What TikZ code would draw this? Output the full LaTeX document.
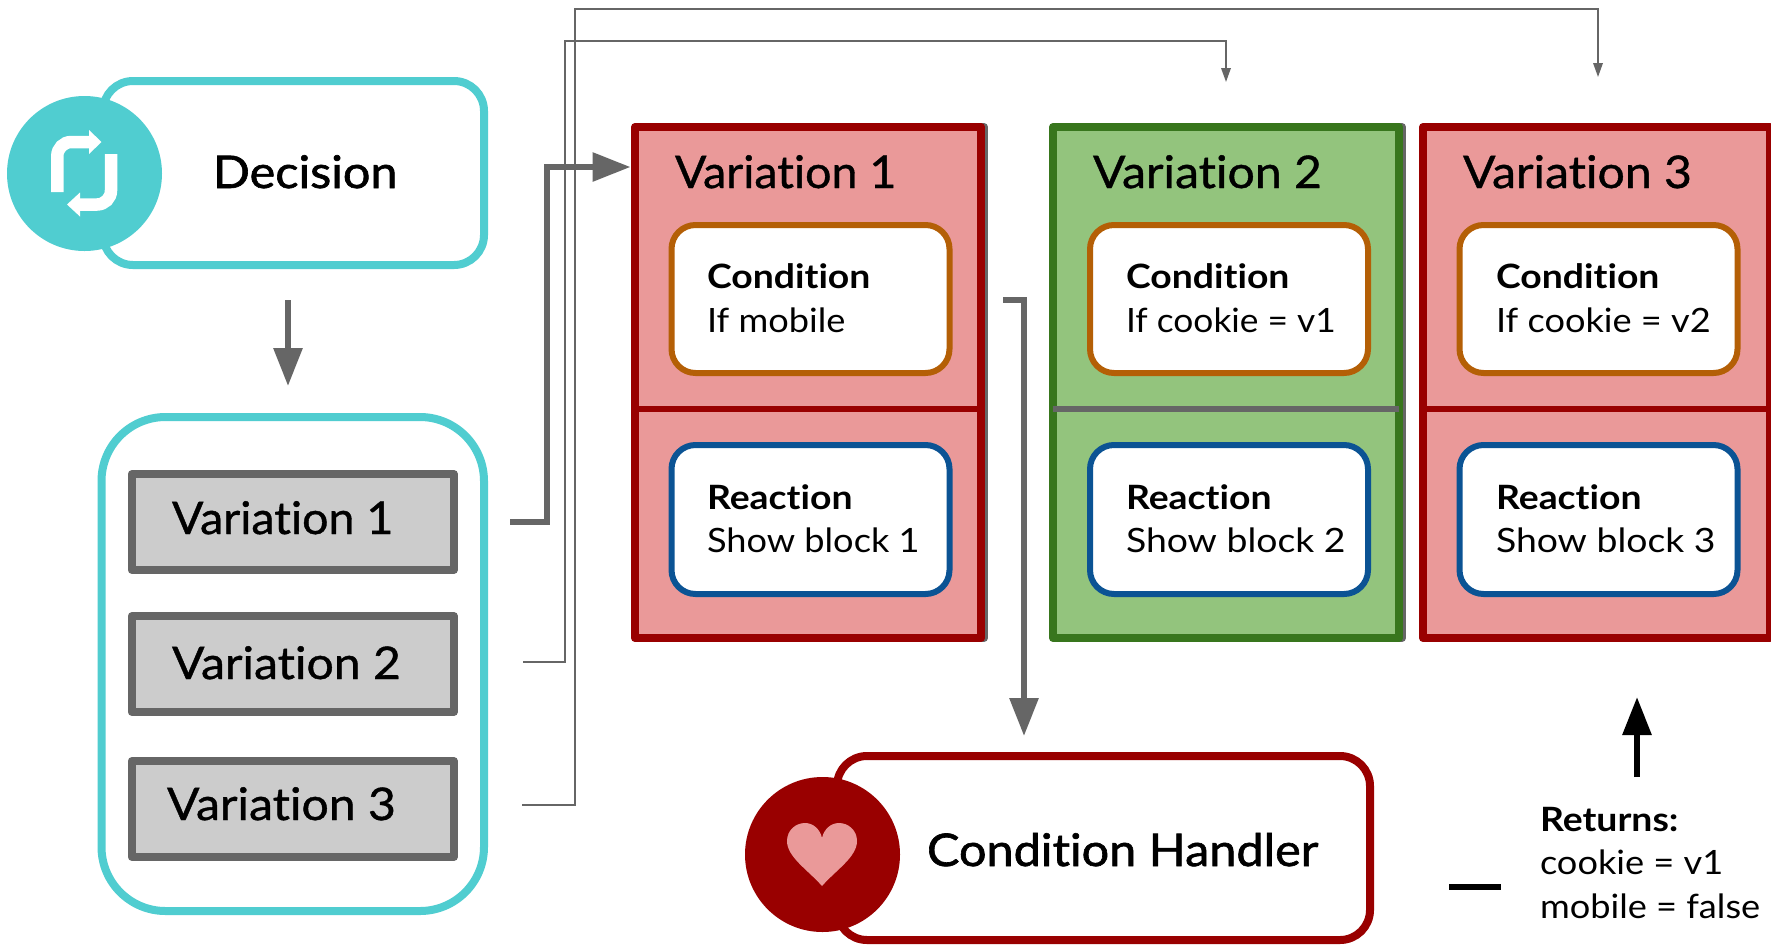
\documentclass[tikz,border=0pt]{standalone}
\usepackage{fontspec}
\setmainfont{Lato}
\newfontfamily\varf[FakeBold=0.9,FakeStretch=1.035,Ligatures=NoCommon]{Lato}
\newfontfamily\varg[FakeBold=0.9,FakeStretch=1.07,Ligatures=NoCommon]{Lato}
\newfontfamily\decf[FakeBold=1.4,FakeStretch=1.08,Ligatures=NoCommon]{Lato}
\newfontfamily\bodf[FakeStretch=1.08,Ligatures=NoCommon]{Lato}
\newfontfamily\bodn[FakeStretch=1.055,Ligatures=NoCommon]{Lato}
\newfontfamily\bodw[FakeStretch=1.115,Ligatures=NoCommon]{Lato}
\newfontfamily\heaf[FakeStretch=1.115,Ligatures=NoCommon]{Lato Bold}
\usetikzlibrary{arrows.meta}
\definecolor{teal}{HTML}{50CDD0}
\definecolor{dkgray}{HTML}{666666}
\definecolor{ltgray}{HTML}{CCCCCC}
\definecolor{dkred}{HTML}{990000}
\definecolor{ltred}{HTML}{EA9999}
\definecolor{dkgreen}{HTML}{38761D}
\definecolor{ltgreen}{HTML}{93C47D}
\definecolor{orng}{HTML}{B45F06}
\definecolor{blu}{HTML}{0B5394}
\tikzset{
  x=1pt,y=-1pt,
  base/.style={inner sep=0,outer sep=0,line join=round},
  lbl/.style={inner sep=0,outer sep=0,anchor=base west,text=black},
  biglbl/.style={lbl,font=\varf\fontsize{45}{54}\selectfont},
  wbiglbl/.style={lbl,font=\varg\fontsize{45}{54}\selectfont},
  declbl/.style={lbl,font=\decf\fontsize{45}{54}\selectfont},
  bodylbl/.style={lbl,font=\bodf\fontsize{33.5}{40}\selectfont},
  nbodylbl/.style={lbl,font=\bodn\fontsize{33.5}{40}\selectfont},
  wbodylbl/.style={lbl,font=\bodw\fontsize{33.5}{40}\selectfont},
  headlbl/.style={lbl,font=\heaf\fontsize{33.5}{40}\selectfont},
  rbox/.style={base,draw=#1,fill=white,line width=8pt,rounded corners=30pt},
  graybox/.style={base,draw=dkgray,fill=ltgray,line width=8pt,minimum width=322pt,minimum height=96pt},
  panel/.style 2 args={base,draw=#1,fill=#2,line width=8pt},
  condbox/.style={base,draw=orng,fill=white,line width=6pt,rounded corners=24pt,minimum width=278pt,minimum height=148pt},
  reactbox/.style={base,draw=blu,fill=white,line width=6pt,rounded corners=24pt,minimum width=278pt,minimum height=149pt},
  thickarrow/.style={draw=dkgray,line width=6pt,-{Triangle[width=28pt,length=38pt]}},
  thinline/.style={draw=dkgray,line width=1.8pt},
  icon/.style={draw=white,line width=12.5pt,rounded corners=14pt},
  iconhead/.style={fill=white,draw=none},
}
\begin{document}
\begin{tikzpicture}
\useasboundingbox (0,0) rectangle (1771,946);
\fill[white] (0,0) rectangle (1771,946);

% Decision
\node[rbox=teal,minimum width=381pt,minimum height=184pt] (dec) at (293.5,173) {};
\node[base,circle,fill=teal,minimum size=155pt] (deccirc) at (84.5,173.5) {};
\draw[icon] (57.3,192) -- (57.3,142) -- (90,142);
\draw[icon] (111,154) -- (111,204.5) -- (80,204.5);
\fill[iconhead] (89,130) -- (101.5,142) -- (89,154) -- cycle;
\fill[iconhead] (80,192.5) -- (67,204.5) -- (80,216.5) -- cycle;
\node[declbl] (dect) at (213,188) {Decision};

% Variation list
\node[rbox=teal,rounded corners=64pt,minimum width=382.5pt,minimum height=494pt] (list) at (292.75,664) {};
\node[graybox] (v1) at (292.75,522) {};
\node[graybox] (v2) at (292.75,664) {};
\node[graybox] (v3) at (292.75,809) {};
\node[biglbl] (v1t) at (172,534) {Variation 1};
\node[wbiglbl] (v2t) at (172,679) {Variation 2};
\node[wbiglbl] (v3t) at (167,820) {Variation 3};

% Panels
\node[base,draw=dkgray,line width=8pt,minimum width=348pt,minimum height=511pt] (p1s) at (810,382.5) {};
\node[base,draw=dkgray,line width=8pt,minimum width=345pt,minimum height=511pt] (p2s) at (1229.5,382.5) {};
\node[panel={dkred}{ltred},minimum width=346pt,minimum height=511pt] (p1) at (808,382.5) {};
\node[panel={dkgreen}{ltgreen},minimum width=346pt,minimum height=511pt] (p2) at (1226,382.5) {};
\node[panel={dkred}{ltred},minimum width=347pt,minimum height=511pt] (p3) at (1596.5,382.5) {};
\draw[dkred,line width=6pt] (p1.west |- 0,409) coordinate (d1a) -- (p1.east |- 0,409) coordinate (d1b);
\draw[dkgray,line width=6pt] (p2.west |- 0,409) coordinate (d2a) -- (p2.east |- 0,409) coordinate (d2b);
\draw[dkred,line width=6pt] (p3.west |- 0,409) coordinate (d3a) -- (p3.east |- 0,409) coordinate (d3b);
\node[biglbl] (p1t) at (675,188) {Variation 1};
\node[wbiglbl] (p2t) at (1093,188) {Variation 2};
\node[wbiglbl] (p3t) at (1463,188) {Variation 3};

\node[condbox] (c1) at (810.5,299) {};
\node[condbox] (c2) at (1229,299) {};
\node[condbox] (c3) at (1598.5,299) {};
\node[reactbox] (r1) at (810.5,519.5) {};
\node[reactbox] (r2) at (1229,519.5) {};
\node[reactbox] (r3) at (1598.5,519.5) {};

\node[headlbl] (c1h) at (707,288) {Condition};
\node[bodylbl] (c1b) at (707,332) {If mobile};
\node[headlbl] (c2h) at (1126,288) {Condition};
\node[nbodylbl] (c2b) at (1126,332) {If cookie = v1};
\node[headlbl] (c3h) at (1496,288) {Condition};
\node[bodylbl] (c3b) at (1496,332) {If cookie = v2};
\node[headlbl] (r1h) at (707,509) {Reaction};
\node[bodylbl] (r1b) at (707,552) {Show block 1};
\node[headlbl] (r2h) at (1126,509) {Reaction};
\node[wbodylbl] (r2b) at (1126,552) {Show block 2};
\node[headlbl] (r3h) at (1496,509) {Reaction};
\node[wbodylbl] (r3b) at (1496,552) {Show block 3};

% Connector end points
\coordinate (decout) at (288,300);
\coordinate (listin) at (288,386);
\coordinate (s1) at (510,522);
\coordinate (s2) at (523,662);
\coordinate (s3) at (522,805);
\coordinate (e1) at (630.5,167);
\coordinate (e2) at (1226,82);
\coordinate (e3) at (1598,77);
\coordinate (h1) at (1003,300);
\coordinate (h2) at (1024,736);
\coordinate (upa) at (1637,777);
\coordinate (upb) at (1637,697);
\coordinate (daa) at (1449,887);
\coordinate (dab) at (1501,887);

\draw[thinline,-{Triangle[width=9.5pt,length=14pt]}] (s2) -| (565,41) -| (e2);
\draw[thinline,-{Triangle[width=9.5pt,length=14pt]}] (s3) -| (575,9) -| (e3);
\draw[thickarrow] (decout) -- (listin);
\draw[thickarrow] (s1) -| (547,167) -- (e1);
\draw[thickarrow] (h1) -| (h2);
\draw[thickarrow,draw=black,-{Triangle[width=28pt,length=38pt,black]}] (upa) -- (upb);
\draw[black,line width=6pt] (daa) -- (dab);

% Condition Handler
\node[rbox=dkred,minimum width=533pt,minimum height=184pt] (ch) at (1103.5,848) {};
\node[base,circle,fill=dkred,minimum size=155pt] (chcirc) at (822.5,854.5) {};
\fill[ltred] (822,886) .. controls (808,870) and (787,857) .. (787,841)
  .. controls (787,830) and (796,823) .. (805,823)
  .. controls (813,823) and (820,829) .. (822,838)
  .. controls (824,829) and (831,823) .. (839,823)
  .. controls (848,823) and (857,830) .. (857,841)
  .. controls (857,857) and (836,870) .. (822,886) -- cycle;
\node[declbl] (cht) at (927,866) {Condition Handler};

% Returns
\node[headlbl] (rh) at (1540,831) {Returns:};
\node[bodylbl] (rl1) at (1540,874) {cookie = v1};
\node[bodylbl] (rl2) at (1540,918) {mobile = false};
\end{tikzpicture}
\end{document}
